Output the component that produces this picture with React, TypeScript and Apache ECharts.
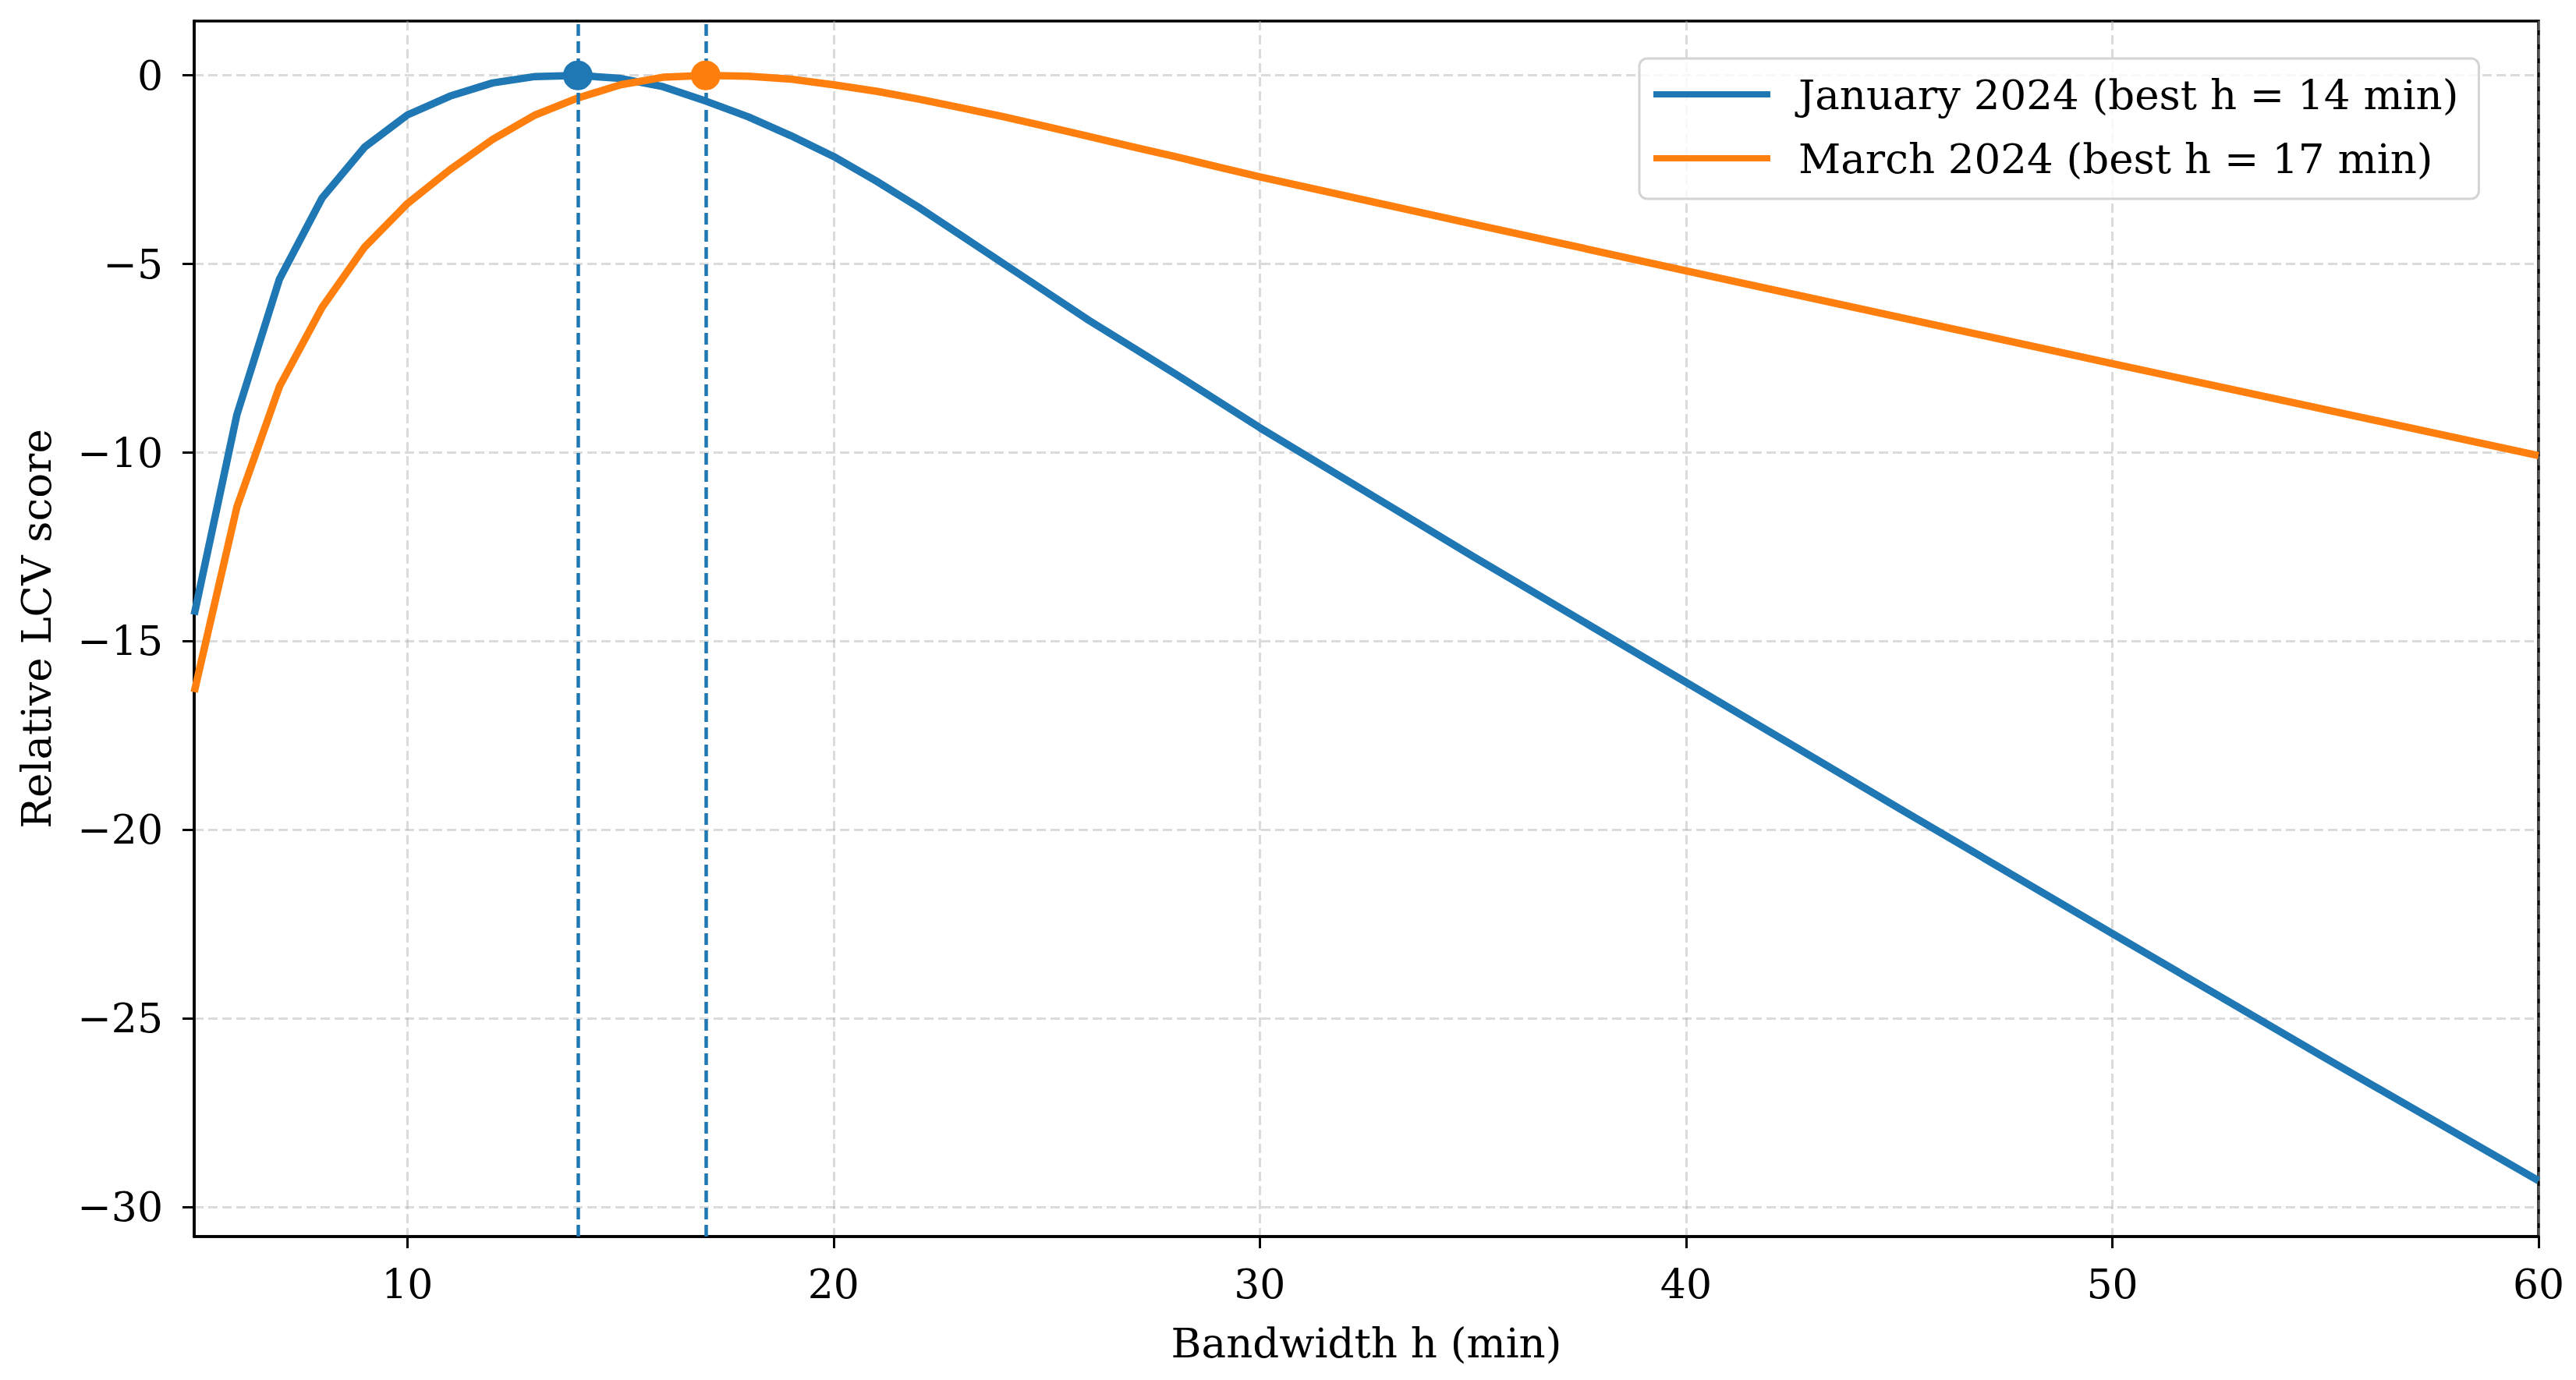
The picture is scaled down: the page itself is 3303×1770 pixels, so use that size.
import React, { useEffect, useRef } from "react";
import * as echarts from "echarts";

// Bandwidth values (minutes) and relative LCV scores
const hJan = [5, 6, 7, 8, 9, 10, 11, 12, 13, 14, 15, 16, 17, 18, 19, 20, 21, 22, 23, 24, 25, 26, 27, 28, 29, 30, 35, 40, 45, 50, 55, 60];
const janScores = [-14.3, -9.0, -5.4, -3.25, -1.9, -1.05, -0.55, -0.2, -0.03, 0, -0.08, -0.3, -0.68, -1.1, -1.6, -2.15, -2.8, -3.5, -4.25, -5.0, -5.75, -6.5, -7.2, -7.9, -8.62, -9.34, -12.75, -16.09, -19.43, -22.75, -26.05, -29.3];

const hMar = [5, 6, 7, 8, 9, 10, 11, 12, 13, 14, 15, 16, 17, 18, 19, 20, 21, 22, 23, 24, 25, 26, 27, 28, 29, 30, 35, 40, 45, 50, 55, 60];
const marScores = [-16.35, -11.45, -8.25, -6.15, -4.55, -3.4, -2.5, -1.7, -1.05, -0.6, -0.25, -0.05, 0, -0.02, -0.1, -0.25, -0.42, -0.63, -0.86, -1.1, -1.36, -1.62, -1.89, -2.15, -2.42, -2.69, -3.94, -5.18, -6.41, -7.64, -8.86, -10.08];

const seriesNames = ["January 2024 (best h = 14 min)", "March 2024 (best h = 17 min)"];
const bestH = [14, 17];
const bestScores = [0, 0];

const xTicks = [10, 20, 30, 40, 50, 60];
const yTicks = [0, -5, -10, -15, -20, -25, -30];

const xTitle = "Bandwidth h (min)";
const yTitle = "Relative LCV score";

const COLORS = ["#1f77b4", "#ff7f0e"];
const FONT = "DejaVu Serif";

const fmt = (v: number) => String(v).replace("-", "\u2212");

export default function App() {
  const ref = useRef<HTMLDivElement>(null);

  useEffect(() => {
    if (!ref.current) return;
    const chart = echarts.init(ref.current, undefined, { renderer: "svg" });

    const janData = hJan.map((h, i) => [h, janScores[i]]);
    const marData = hMar.map((h, i) => [h, marScores[i]]);

    const tickText = { color: "#000", fontFamily: FONT, fontSize: 52 };
    const titleText = { color: "#000", fontFamily: FONT, fontSize: 53 };
    const gridLine = { show: true, lineStyle: { color: "rgba(176,176,176,0.45)", width: 3, type: [12, 6] as any } };

    chart.setOption({
      animation: false,
      backgroundColor: "#ffffff",
      textStyle: { fontFamily: FONT },
      grid: {
        left: 249,
        top: 27,
        width: 3006,
        height: 1559,
        show: true,
        borderColor: "#000",
        borderWidth: 3.5,
        backgroundColor: "transparent",
        containLabel: false,
        outerBoundsMode: "none",
      },
      legend: {
        data: seriesNames,
        orient: "vertical",
        left: 2102,
        top: 75,
        icon: "rect",
        itemWidth: 150,
        itemHeight: 8,
        itemGap: 22,
        padding: [16, 26, 22, 18],
        backgroundColor: "rgba(255,255,255,0.8)",
        borderColor: "#d4d4d4",
        borderWidth: 3,
        borderRadius: 10,
        textStyle: { color: "#000", fontFamily: FONT, fontSize: 53, lineHeight: 60, padding: [0, 0, 0, 31] },
      },
      xAxis: {
        type: "value",
        min: 5,
        max: 60,
        name: xTitle,
        nameLocation: "middle",
        nameGap: 110,
        nameTextStyle: { ...titleText },
        axisLine: { show: true, onZero: false, lineStyle: { color: "#000", width: 3.5 } },
        axisTick: { show: true, customValues: xTicks, length: 15, lineStyle: { color: "#000", width: 3 } },
        axisLabel: { show: true, customValues: xTicks, margin: 35, formatter: fmt, ...tickText },
        splitLine: gridLine,
      },
      yAxis: {
        type: "value",
        min: -30.78,
        max: 1.44,
        name: yTitle,
        nameLocation: "middle",
        nameGap: 176,
        nameTextStyle: { ...titleText },
        axisLine: { show: true, onZero: false, lineStyle: { color: "#000", width: 3.5 } },
        axisTick: { show: true, customValues: yTicks, length: 15, lineStyle: { color: "#000", width: 3 } },
        axisLabel: { show: true, customValues: yTicks, margin: 40, formatter: fmt, ...tickText },
        splitLine: gridLine,
      },
      series: [
        {
          name: seriesNames[0],
          type: "line",
          data: janData,
          symbol: "none",
          showSymbol: false,
          z: 3,
          color: COLORS[0],
          lineStyle: { color: COLORS[0], width: 9.5, join: "round", cap: "butt" },
          markLine: {
            silent: true,
            symbol: "none",
            label: { show: false },
            lineStyle: { color: COLORS[0], width: 4.5, type: [15, 7] as any },
            data: bestH.map((h) => ({ xAxis: h })),
          },
        },
        {
          name: seriesNames[1],
          type: "line",
          data: marData,
          symbol: "none",
          showSymbol: false,
          z: 3,
          color: COLORS[1],
          lineStyle: { color: COLORS[1], width: 9.5, join: "round", cap: "butt" },
        },
        {
          name: "best",
          type: "scatter",
          z: 5,
          symbol: "circle",
          symbolSize: 38,
          data: bestH.map((h, i) => ({ value: [h, bestScores[i]], itemStyle: { color: COLORS[i], opacity: 1 } })),
        },
      ],
    });

    return () => chart.dispose();
  }, []);

  return (
    <div
      ref={ref}
      style={{ position: "fixed", left: 0, top: 0, width: 3303, height: 1770, background: "#fff" }}
    />
  );
}
